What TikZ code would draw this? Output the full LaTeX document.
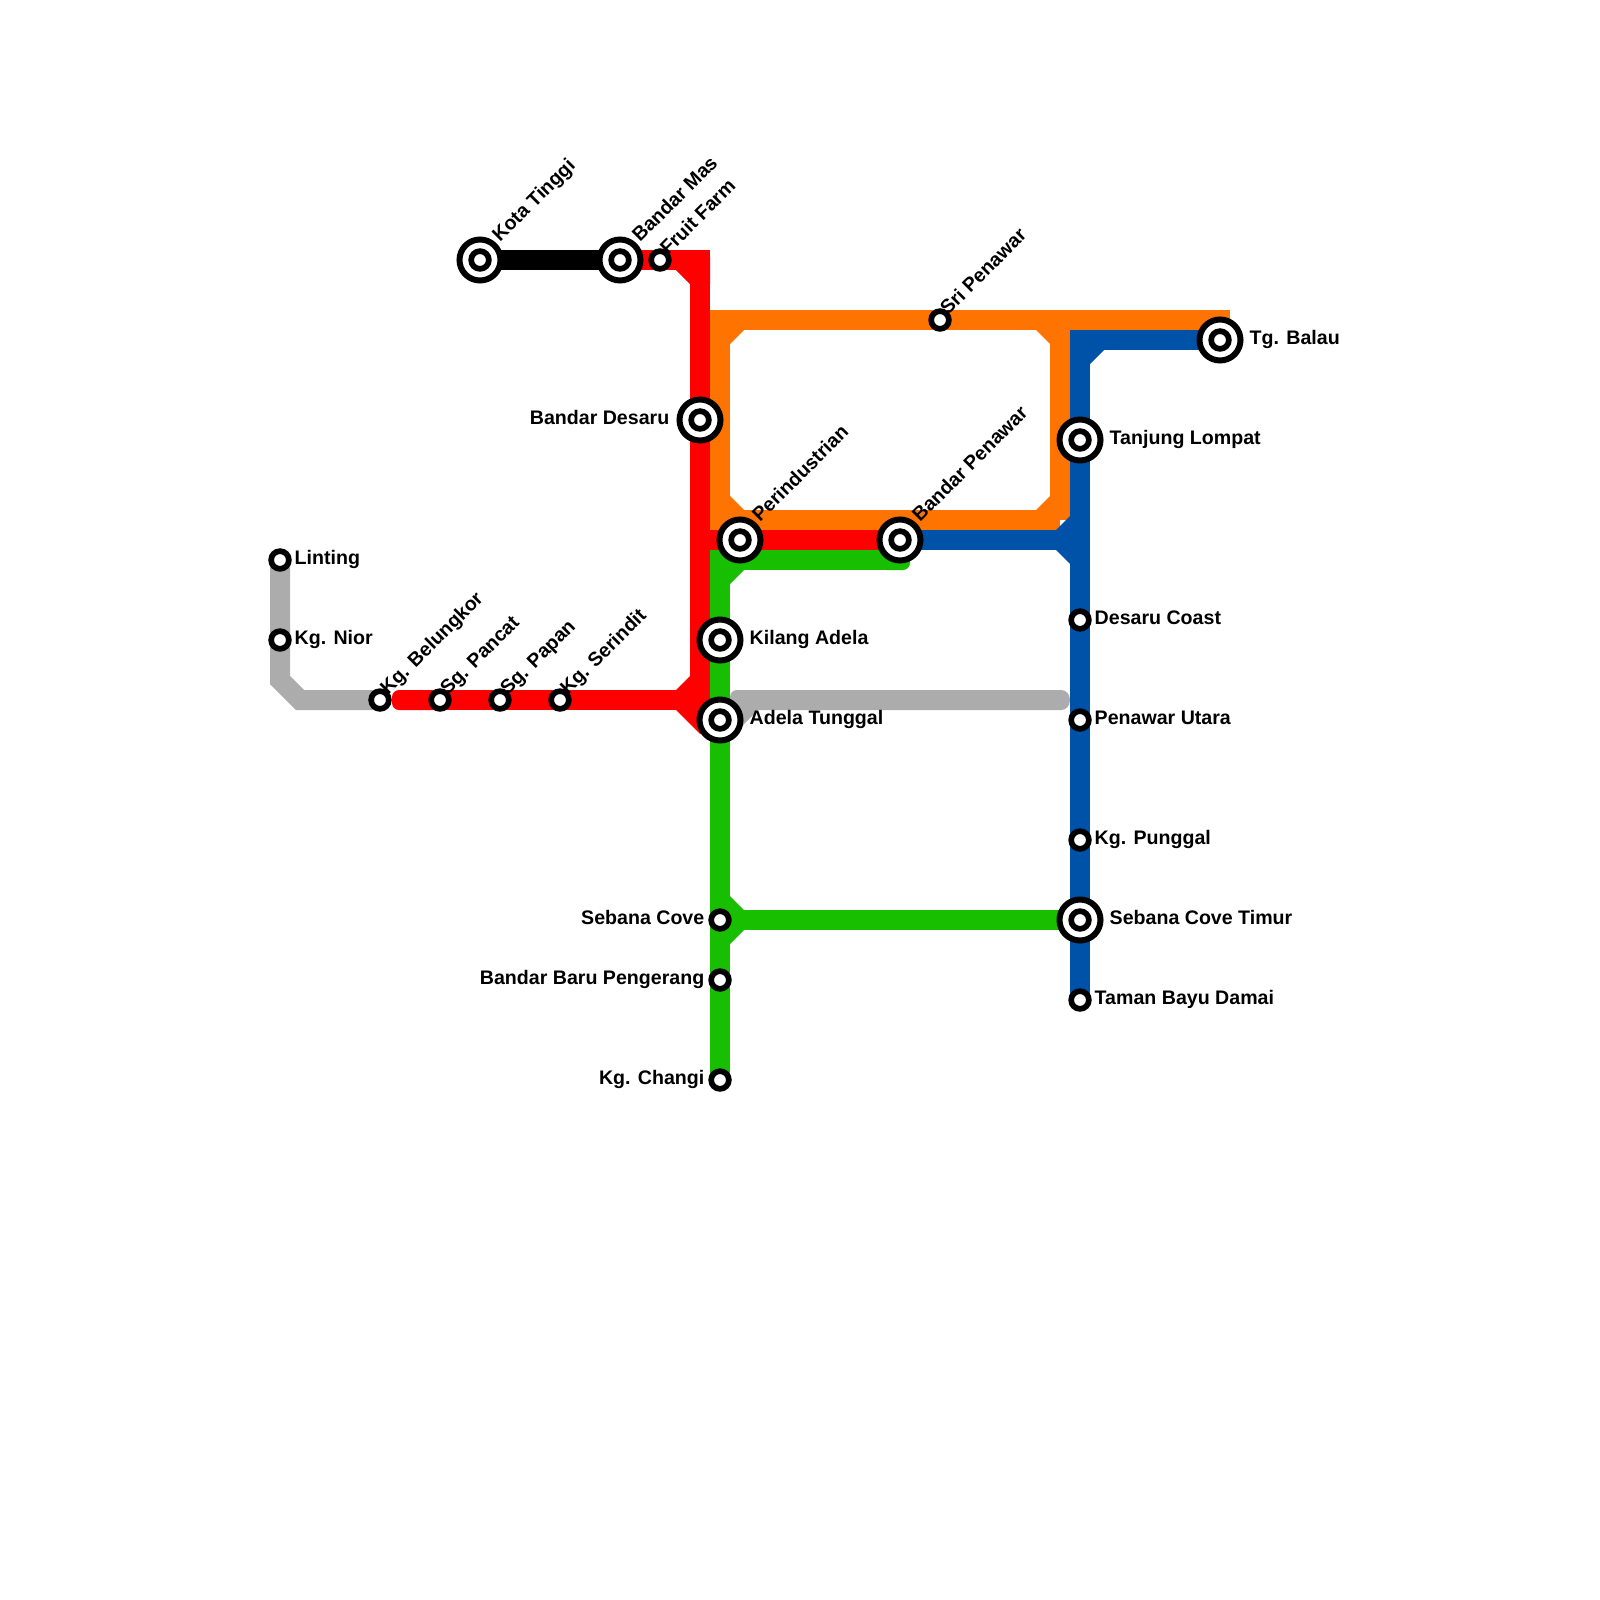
\documentclass[tikz,border=0pt]{standalone}
\usepackage{fontspec}
\setmainfont{Liberation Sans}
\definecolor{mgray}{HTML}{ACACAC}
\definecolor{mred}{HTML}{FF0000}
\definecolor{morange}{HTML}{FF7300}
\definecolor{mgreen}{HTML}{17BF00}
\definecolor{mblue}{HTML}{0052A8}
\tikzset{
  metro/.style={line width=20pt,line join=miter},
  bigst/.style={circle,inner sep=0pt,minimum size=41pt,draw=black,line width=6pt,fill=white,
    path picture={\draw[black,line width=5.7pt] (path picture bounding box.center) circle[radius=8.85pt];}},
  smallst/.style={circle,inner sep=0pt,minimum size=17.7pt,draw=black,line width=5.7pt,fill=white},
  stxt/.style={inner sep=0pt,text=black,font=\bfseries\fontsize{19.6}{22}\selectfont},
}
% outer corner with a small radius and a cut inner corner
\newcommand\cornerpatch[4]{\fill[#1,shift={(#2)},xscale=#3,yscale=#4]
  (-10,-24) -- (10,-24) -- (10,3) .. controls (10,7) and (7,10) .. (3,10) -- (-24,10) -- (-24,-10) -- cycle;}
% cut filling the angle of a branch
\newcommand\cutpatch[4]{\fill[#1,shift={(#2)},xscale=#3,yscale=#4] (0,0) -- (14,0) -- (0,14) -- cycle;}
\newcommand\lblE[2]{\node[stxt,anchor=base west,name=t#1] at ([shift={(14.5,4)}]#1.center) {#2};}
\newcommand\lblEE[2]{\node[stxt,anchor=base west,name=t#1] at ([shift={(29.5,4)}]#1.center) {#2};}
\newcommand\lblW[2]{\node[stxt,anchor=base east,name=t#1] at ([shift={(-15.5,4)}]#1.center) {#2};}
\newcommand\lblWW[2]{\node[stxt,anchor=base east,name=t#1] at ([shift={(-30.5,4)}]#1.center) {#2};}
\newcommand\lblN[2]{\node[stxt,anchor=base west,rotate=45,name=t#1] at ([shift={(8,-4)}]#1.center) {#2};}
\newcommand\lblNN[2]{\node[stxt,anchor=base west,rotate=45,name=t#1] at ([shift={(20,-17)}]#1.center) {#2};}
\begin{document}
\begin{tikzpicture}[x=1pt,y=-1pt]
\useasboundingbox (0,0) rectangle (1600,1600);
\fill[white] (0,0) rectangle (1600,1600);
% stations (placed first so that lines can name them, drawn on top later)
\path
 (480,260) coordinate (KotaTinggi)
 (620,260) coordinate (BandarMas)
 (660,260) coordinate (FruitFarm)
 (940,320) coordinate (SriPenawar)
 (1220,340) coordinate (TgBalau)
 (700,420) coordinate (BandarDesaru)
 (1080,440) coordinate (TanjungLompat)
 (740,540) coordinate (Perindustrian)
 (900,540) coordinate (BandarPenawar)
 (720,640) coordinate (KilangAdela)
 (720,720) coordinate (AdelaTunggal)
 (280,560) coordinate (Linting)
 (280,640) coordinate (KgNior)
 (380,700) coordinate (KgBelungkor)
 (440,700) coordinate (SgPancat)
 (500,700) coordinate (SgPapan)
 (560,700) coordinate (KgSerindit)
 (1080,620) coordinate (DesaruCoast)
 (1080,720) coordinate (PenawarUtara)
 (1080,840) coordinate (KgPunggal)
 (1080,920) coordinate (SebanaTimur)
 (1080,1000) coordinate (TamanBayu)
 (720,920) coordinate (SebanaCove)
 (720,980) coordinate (BaruPengerang)
 (720,1080) coordinate (KgChangi)
 % corners and junctions
 (700,260) coordinate (cRedTop)
 (700,700) coordinate (cRedJoin)
 (700,540) coordinate (cRedMid)
 (720,320) coordinate (cOrTL)
 (720,520) coordinate (cOrBL)
 (1060,320) coordinate (cOrT)
 (1060,520) coordinate (cOrB)
 (1230,320) coordinate (cOrEnd)
 (720,560) coordinate (cGrTL)
 (1080,340) coordinate (cBlTL)
 (1080,540) coordinate (cBlJoin)
 (280,680) coordinate (cGy1)
 (300,700) coordinate (cGy2)
 (735,700) coordinate (cGyS)
 (1060,700) coordinate (cGyE);
% grey
\draw[metro,mgray] (Linting) -- (KgNior) -- (cGy1) -- (cGy2) -- (KgBelungkor);
\fill[mgray] (730,697) .. controls (730,693) and (733,690) .. (737,690) -- (1061,690)
  .. controls (1066,690) and (1070,694) .. (1070,700) .. controls (1070,706) and (1066,710) .. (1061,710)
  -- (758,710) -- (740,728) -- (730,728) -- cycle;
% black
\draw[metro,black] (KotaTinggi) -- (BandarMas);
% red
\draw[metro,mred] (BandarMas) -- (FruitFarm) -- (cRedTop) -- (BandarDesaru) -- (cRedMid) -- (cRedJoin);
\cornerpatch{mred}{cRedTop}{1}{-1}
\cutpatch{mred}{690,270}{-1}{1}
\draw[metro,mred] (cRedMid) -- (Perindustrian) -- (BandarPenawar);
\draw[metro,mred] (SgPancat) -- (SgPapan) -- (KgSerindit) -- (cRedJoin);
\fill[mred,rounded corners=7pt] (392,690) rectangle (450,710);
\cutpatch{mred}{690,690}{-1}{-1}
\fill[mred] (676,710) -- (700,734) -- (720,734) -- (720,690) -- (690,690) -- (690,710) -- cycle;
% orange
\draw[metro,morange] (cOrB) -- (BandarPenawar |- cOrB) -- (cOrBL) -- (cOrTL) -- (SriPenawar) -- (cOrT) -- (cOrEnd);
\draw[metro,morange] (cOrT) -- (cOrB);
\cornerpatch{morange}{cOrTL}{-1}{-1}
\cornerpatch{morange}{cOrBL}{-1}{1}
\cutpatch{morange}{1050,330}{-1}{1}
\cutpatch{morange}{1050,510}{-1}{-1}
\fill[morange,rounded corners=7pt] (1200,310) rectangle (1230,330);
% green
\draw[metro,mgreen] (BandarPenawar |- cGrTL) -- (cGrTL) -- (KilangAdela) -- (AdelaTunggal) -- (SebanaCove) -- (BaruPengerang) -- (KgChangi);
\cornerpatch{mgreen}{cGrTL}{-1}{-1}
\fill[mgreen,rounded corners=7pt] (880,550) rectangle (910,570);
\draw[metro,mgreen] (SebanaCove) -- (SebanaTimur);
\cutpatch{mgreen}{730,910}{1}{-1}
\cutpatch{mgreen}{730,930}{1}{1}
% blue
\draw[metro,mblue] (TgBalau) -- (cBlTL) -- (TanjungLompat) -- (cBlJoin) -- (DesaruCoast) -- (PenawarUtara) -- (KgPunggal) -- (SebanaTimur) -- (TamanBayu);
\draw[metro,mblue] (BandarPenawar) -- (cBlJoin);
\cornerpatch{mblue}{cBlTL}{-1}{-1}
\cutpatch{mblue}{1070,530}{-1}{-1}
\cutpatch{mblue}{1070,550}{-1}{1}
% station symbols
\foreach \n in {KotaTinggi,BandarMas,TgBalau,BandarDesaru,TanjungLompat,Perindustrian,BandarPenawar,KilangAdela,AdelaTunggal,SebanaTimur}
  {\node[bigst] (s\n) at (\n) {};}
\foreach \n in {FruitFarm,SriPenawar,Linting,KgNior,KgBelungkor,SgPancat,SgPapan,KgSerindit,DesaruCoast,PenawarUtara,KgPunggal,TamanBayu,SebanaCove,BaruPengerang,KgChangi}
  {\node[smallst] (s\n) at (\n) {};}
% labels
\lblNN{KotaTinggi}{Kota Tinggi}
\lblNN{BandarMas}{Bandar Mas}
\lblN{FruitFarm}{Fruit Farm}
\lblN{SriPenawar}{Sri Penawar}
\lblEE{TgBalau}{Tg. Balau}
\lblWW{BandarDesaru}{Bandar Desaru}
\lblEE{TanjungLompat}{Tanjung Lompat}
\lblNN{Perindustrian}{Perindustrian}
\lblNN{BandarPenawar}{Bandar Penawar}
\lblEE{KilangAdela}{Kilang Adela}
\lblEE{AdelaTunggal}{Adela Tunggal}
\lblE{Linting}{Linting}
\lblE{KgNior}{Kg. Nior}
\lblN{KgBelungkor}{Kg. Belungkor}
\lblN{SgPancat}{Sg. Pancat}
\lblN{SgPapan}{Sg. Papan}
\lblN{KgSerindit}{Kg. Serindit}
\lblE{DesaruCoast}{Desaru Coast}
\lblE{PenawarUtara}{Penawar Utara}
\lblE{KgPunggal}{Kg. Punggal}
\lblEE{SebanaTimur}{Sebana Cove Timur}
\lblE{TamanBayu}{Taman Bayu Damai}
\lblW{SebanaCove}{Sebana Cove}
\lblW{BaruPengerang}{Bandar Baru Pengerang}
\lblW{KgChangi}{Kg. Changi}
\end{tikzpicture}
\end{document}
